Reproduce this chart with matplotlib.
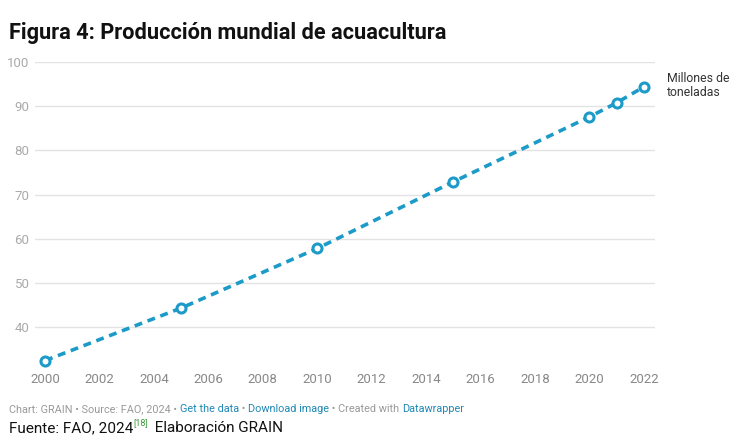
import matplotlib.pyplot as plt
from matplotlib.text import Annotation

plt.rcParams['font.family'] = ['Roboto', 'DejaVu Sans']

# data
years = [2000, 2005, 2010, 2015, 2020, 2021, 2022]
produccion = [32.4, 44.3, 57.8, 72.9, 87.6, 90.8, 94.4]
xticks = list(range(2000, 2023, 2))
yticks = [40, 50, 60, 70, 80, 90, 100]

blue = '#1d9bc8'

fig = plt.figure(figsize=(7.36, 4.44), dpi=100)
ax = fig.add_axes([0.0476, 0.178, 0.842, 0.682])

ax.plot(years, produccion, color=blue, lw=2.6, ls=(0, (2.2, 1.6)),
        marker='o', ms=6.5, mfc='white', mec=blue, mew=2.2, clip_on=False, zorder=3)

ax.set_xlim(1999.63, 2022.4)
ax.set_ylim(31.4, 100)
ax.set_yticks(yticks)
ax.set_xticks(xticks)
ax.grid(axis='y', color='#e3e3e3', lw=1)
for s in ax.spines.values():
    s.set_visible(False)
ax.tick_params(axis='both', length=0)
ax.tick_params(axis='y', labelsize=9.5, labelcolor='#aaaaaa', pad=4)
ax.tick_params(axis='x', labelsize=9.5, labelcolor='#888888', pad=6)
for lab in ax.get_yticklabels():
    lab.set_horizontalalignment('right')

ax.text(2022.85, produccion[-1] + 0.2, 'Millones de\ntoneladas', fontsize=8.8,
        color='#333333', va='center', ha='left', linespacing=1.1)

fig.text(0.012, 0.925, 'Figura 4: Producción mundial de acuacultura',
         fontsize=15.7, fontweight='bold', color='#111111', va='center')

# footer line with links
parts = [('Chart: GRAIN • Source: FAO, 2024 • ', '#999999'),
         ('Get the data', '#1f88b5'),
         (' • ', '#999999'),
         ('Download image', '#1f88b5'),
         (' • Created with ', '#999999'),
         ('Datawrapper', '#1f88b5')]
prev = fig.text(0.012, 0.068, parts[0][0], fontsize=7.8, color=parts[0][1], va='bottom')
for txt, col in parts[1:]:
    a = Annotation(txt, xy=(1, 0), xycoords=prev, va='bottom', ha='left',
                   fontsize=7.8, color=col)
    fig.add_artist(a)
    prev = a

src = fig.text(0.012, 0.02, 'Fuente: FAO, 2024', fontsize=11, color='#111111', va='bottom')
sup = Annotation('[18]', xy=(1, 0.6), xycoords=src, va='bottom', ha='left',
                 fontsize=6.5, color='#3a9a3a')
fig.add_artist(sup)
rest = Annotation(' Elaboración GRAIN', xy=(1, 0), xycoords=src, xytext=(13, 0),
                  textcoords='offset points', va='bottom', ha='left',
                  fontsize=11, color='#111111')
fig.add_artist(rest)

fig.savefig('out.png', dpi=100)
